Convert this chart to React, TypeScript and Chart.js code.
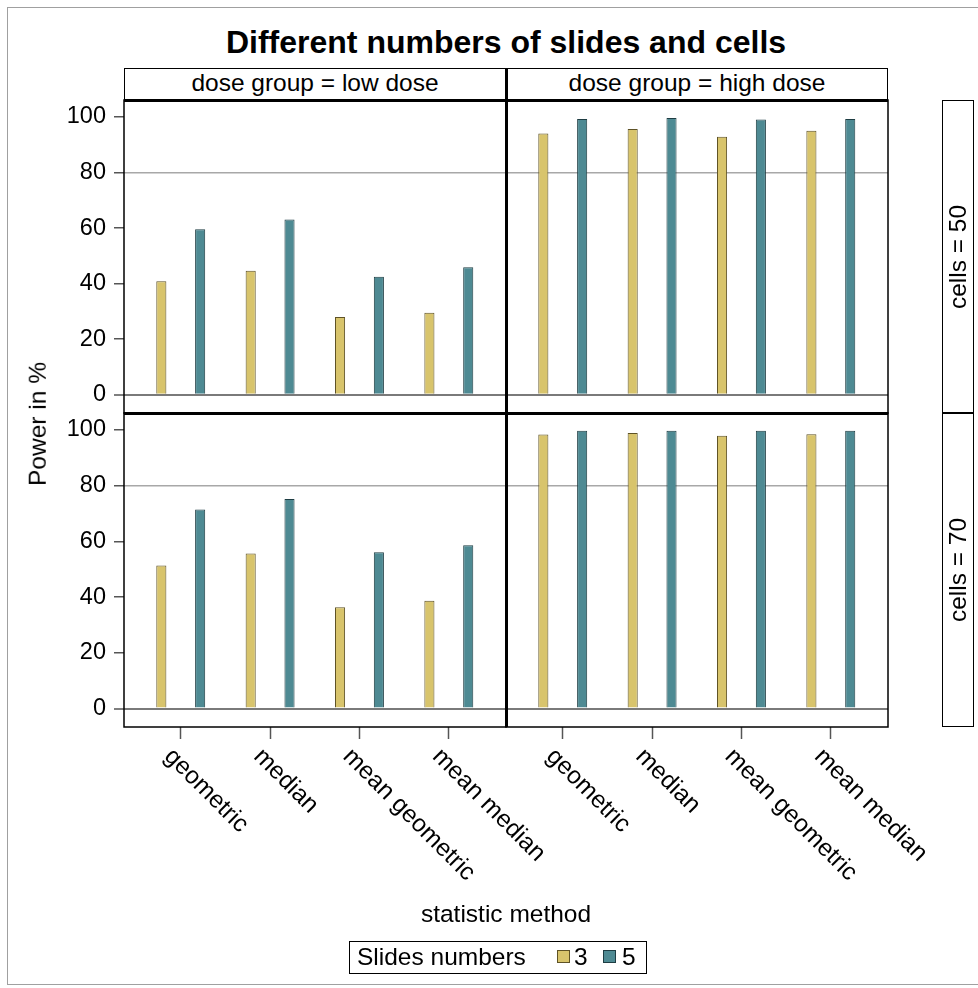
import React, { useEffect, useRef } from 'react';
import { Chart, registerables } from 'chart.js';

Chart.register(...registerables);

// ---------- data ----------
const methods = ['geometric', 'median', 'mean geometric', 'mean median'];
const slideLabels = ['3', '5'];
const doseLabels = ['low dose', 'high dose'];
const cellLabels = ['50', '70'];
const yTicks = [0, 20, 40, 60, 80, 100];

// Power in %, cells = 50
const low50Slides3 = [40.8, 44.6, 28.0, 29.5];
const low50Slides5 = [59.6, 63.1, 42.5, 45.9];
const high50Slides3 = [94.0, 95.7, 92.9, 95.0];
const high50Slides5 = [99.3, 99.6, 99.1, 99.3];
// Power in %, cells = 70
const low70Slides3 = [51.4, 55.7, 36.4, 38.7];
const low70Slides5 = [71.5, 75.2, 56.1, 58.6];
const high70Slides3 = [98.4, 98.9, 97.9, 98.5];
const high70Slides5 = [99.7, 99.7, 99.7, 99.7];

// ---------- style / layout ----------
const W = 978;
const H = 988;
const PL = 124;
const PM = 506;
const PR = 888;
const PT = 100;
const PMID = 413;
const PB = 727;
const YAXW = 80;
const XAXH = 12;
const X_MIN = -0.635;
const X_MAX = 3.64;
const Y_MIN = -6.6;
const Y_MAX = 106.1;
const FONT = "'Liberation Sans', Arial, Helvetica, sans-serif";
const FS = 24.5;
const YEL = '#D8C46C';
const YEL_EDGE = '#5E5226';
const TEAL = '#4E8A93';
const TEAL_EDGE = '#1E3D43';

type PanelProps = {
  s3: number[];
  s5: number[];
  l: number;
  t: number;
  r: number;
  b: number;
  showY: boolean;
  showX: boolean;
};

const framePlugin = {
  id: 'panelFrame',
  afterDraw(chart: any) {
    const { ctx, chartArea } = chart;
    ctx.save();
    ctx.strokeStyle = '#000';
    ctx.lineWidth = 1.5;
    ctx.strokeRect(chartArea.left, chartArea.top, chartArea.right - chartArea.left, chartArea.bottom - chartArea.top);
    ctx.restore();
  },
};

const xLabelPlugin = {
  id: 'xLabels',
  afterDraw(chart: any) {
    const { ctx, chartArea } = chart;
    const xs = chart.scales.x;
    ctx.save();
    ctx.fillStyle = '#000';
    ctx.font = `${FS}px ${FONT}`;
    ctx.textAlign = 'left';
    ctx.textBaseline = 'top';
    methods.forEach((m, i) => {
      const px = xs.getPixelForValue(i);
      ctx.save();
      ctx.translate(px - 4, chartArea.bottom + 17);
      ctx.rotate(Math.PI / 4);
      ctx.fillText(m, 0, 0);
      ctx.restore();
    });
    ctx.restore();
  },
};

function Panel({ s3, s5, l, t, r, b, showY, showX }: PanelProps) {
  const ref = useRef<HTMLCanvasElement>(null);
  useEffect(() => {
    if (!ref.current) return;
    const chart = new Chart(ref.current, {
      type: 'bar',
      data: {
        datasets: [
          {
            label: slideLabels[0],
            data: s3.map((v, i) => ({ x: i, y: v })),
            backgroundColor: YEL,
            borderColor: YEL_EDGE,
            borderWidth: 1,
          },
          {
            label: slideLabels[1],
            data: s5.map((v, i) => ({ x: i, y: v })),
            backgroundColor: TEAL,
            borderColor: TEAL_EDGE,
            borderWidth: 1,
          },
        ],
      },
      options: {
        responsive: false,
        maintainAspectRatio: false,
        animation: false,
        events: [],
        layout: {
          padding: {
            left: showY ? l - YAXW : l,
            top: t,
            right: W - r,
            bottom: showX ? H - b - XAXH : H - b,
          },
        },
        datasets: {
          bar: { categoryPercentage: 0.869, barPercentage: 0.26 },
        },
        plugins: {
          legend: { display: false },
          tooltip: { enabled: false },
          title: { display: false },
        },
        scales: {
          x: {
            type: 'linear',
            min: X_MIN,
            max: X_MAX,
            offset: false,
            display: showX,
            afterBuildTicks: (s: any) => {
              s.ticks = methods.map((_, i) => ({ value: i }));
            },
            afterFit: (s: any) => {
              s.height = showX ? XAXH : 0;
            },
            grid: {
              offset: false,
              drawOnChartArea: false,
              drawTicks: true,
              tickLength: XAXH,
              tickColor: '#555',
              tickWidth: 1.5,
            },
            border: { display: false },
            ticks: { display: false },
          },
          y: {
            type: 'linear',
            min: Y_MIN,
            max: Y_MAX,
            display: true,
            afterBuildTicks: (s: any) => {
              s.ticks = yTicks.map((v) => ({ value: v }));
            },
            afterFit: (s: any) => {
              s.width = showY ? YAXW : 0;
            },
            grid: {
              color: (c: any) => {
                const v = c.tick ? c.tick.value : null;
                if (v === 80) return '#a8a8a8';
                if (v === 0) return '#7a7a7a';
                return 'rgba(0,0,0,0)';
              },
              lineWidth: (c: any) => {
                const v = c.tick ? c.tick.value : null;
                return v === 0 ? 2 : 1.5;
              },
              drawTicks: showY,
              tickLength: 10,
              tickColor: '#555',
              tickWidth: 1.5,
            },
            border: { display: false },
            ticks: {
              display: showY,
              autoSkip: false,
              padding: 8,
              color: '#000',
              font: { family: FONT, size: 23.5 },
            },
          },
        },
      },
      plugins: showX ? [framePlugin, xLabelPlugin] : [framePlugin],
    } as any);
    return () => chart.destroy();
  }, []);
  return (
    <canvas
      ref={ref}
      width={W}
      height={H}
      style={{ position: 'absolute', left: 0, top: 0, width: W, height: H }}
    />
  );
}

const abs = (s: React.CSSProperties): React.CSSProperties => ({ position: 'absolute', ...s });

function RotText({ cx, cy, text, size }: { cx: number; cy: number; text: string; size: number }) {
  return (
    <div
      style={abs({
        left: cx,
        top: cy,
        transform: 'translate(-50%, -50%) rotate(-90deg)',
        whiteSpace: 'nowrap',
        fontSize: size,
        lineHeight: `${size + 4}px`,
        fontFamily: FONT,
        color: '#000',
      })}
    >
      {text}
    </div>
  );
}

export default function App() {
  return (
    <div
      style={abs({
        left: 0,
        top: 0,
        width: W,
        height: H,
        overflow: 'hidden',
        background: '#fff',
        fontFamily: FONT,
      })}
    >
      {/* outer frame */}
      <div style={abs({ left: 7, top: 7, width: 990, height: 978, border: '1px solid #a0a0a0', boxSizing: 'border-box' })} />

      {/* title */}
      <div
        style={abs({
          left: PL,
          width: PR - PL,
          top: 23,
          textAlign: 'center',
          fontSize: 32,
          fontWeight: 'bold',
          lineHeight: '38px',
          whiteSpace: 'nowrap',
        })}
      >
        Different numbers of slides and cells
      </div>

      {/* column strips */}
      {[PL, PM].map((x0, i) => (
        <div
          key={'col' + i}
          style={abs({
            left: x0,
            top: 68,
            width: (i === 0 ? PM : PR) - x0,
            height: PT - 68,
            border: '1.5px solid #000',
            boxSizing: 'border-box',
            textAlign: 'center',
            fontSize: FS,
            lineHeight: '28px',
            whiteSpace: 'nowrap',
          })}
        >
          {'dose group = ' + doseLabels[i]}
        </div>
      ))}

      {/* panels */}
      <Panel s3={low50Slides3} s5={low50Slides5} l={PL} t={PT} r={PM} b={PMID} showY={true} showX={false} />
      <Panel s3={high50Slides3} s5={high50Slides5} l={PM} t={PT} r={PR} b={PMID} showY={false} showX={false} />
      <Panel s3={low70Slides3} s5={low70Slides5} l={PL} t={PMID} r={PM} b={PB} showY={true} showX={true} />
      <Panel s3={high70Slides3} s5={high70Slides5} l={PM} t={PMID} r={PR} b={PB} showY={false} showX={true} />

      {/* thicker dividers */}
      <div style={abs({ left: PM - 1.5, top: 68, width: 3, height: PB - 68, background: '#000' })} />
      <div style={abs({ left: PL, top: PT - 1.5, width: PR - PL, height: 3, background: '#000' })} />
      <div style={abs({ left: PL, top: PMID - 1.5, width: PR - PL, height: 3, background: '#000' })} />

      {/* row strips */}
      {[PT, PMID].map((y0, i) => (
        <div
          key={'row' + i}
          style={abs({
            left: 942,
            top: y0,
            width: 32,
            height: (i === 0 ? PMID : PB) - y0,
            border: '1.5px solid #000',
            boxSizing: 'border-box',
          })}
        />
      ))}
      {[PT, PMID].map((y0, i) => (
        <RotText key={'rt' + i} cx={958} cy={(y0 + (i === 0 ? PMID : PB)) / 2} text={'cells = ' + cellLabels[i]} size={FS} />
      ))}

      {/* axis titles */}
      <RotText cx={38} cy={424} text="Power in %" size={FS} />
      <div
        style={abs({
          left: PL,
          width: PR - PL,
          top: 900,
          textAlign: 'center',
          fontSize: FS,
          lineHeight: '28px',
          whiteSpace: 'nowrap',
        })}
      >
        statistic method
      </div>

      {/* legend */}
      <div
        style={abs({
          left: 349,
          top: 941,
          width: 298,
          height: 33,
          border: '1.5px solid #000',
          boxSizing: 'border-box',
        })}
      />
      <div style={abs({ left: 357, top: 943, fontSize: FS, lineHeight: '28px', whiteSpace: 'nowrap' })}>Slides numbers</div>
      <div style={abs({ left: 557, top: 950, width: 13, height: 13, background: YEL, border: `1px solid ${YEL_EDGE}`, boxSizing: 'border-box' })} />
      <div style={abs({ left: 574, top: 943, fontSize: FS, lineHeight: '28px' })}>{slideLabels[0]}</div>
      <div style={abs({ left: 603, top: 950, width: 13, height: 13, background: TEAL, border: `1px solid ${TEAL_EDGE}`, boxSizing: 'border-box' })} />
      <div style={abs({ left: 622, top: 943, fontSize: FS, lineHeight: '28px' })}>{slideLabels[1]}</div>
    </div>
  );
}
